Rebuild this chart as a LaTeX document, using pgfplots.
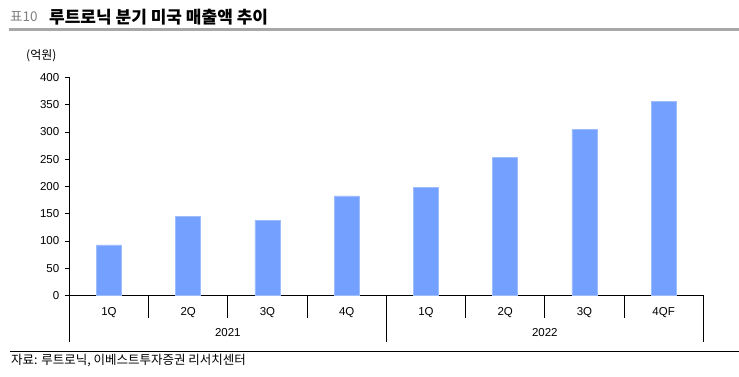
\documentclass[border=0pt]{standalone}
\usepackage{pgfplots}
\pgfplotsset{compat=1.18}
\usepackage{fontspec}
\setmainfont{Liberation Sans}
\newfontfamily\kr{Noto Sans CJK KR}
\definecolor{barblue}{RGB}{116,160,255}
\definecolor{titlegray}{RGB}{168,168,168}
\begin{document}
\begin{tikzpicture}[x=1pt,y=1pt]
\path[use as bounding box,fill=white] (0,0) rectangle (739,377);
% title
\node[anchor=west,inner sep=0,text=gray,font=\kr\fontsize{13.5}{14}\selectfont] at (10,360) {표10};
\node[anchor=west,inner sep=0,font=\kr\bfseries\fontsize{17}{17}\selectfont] at (49,360) {루트로닉 분기 미국 매출액 추이};
\fill[titlegray] (9,345.8) rectangle (739,348.6);
\node[anchor=west,inner sep=0,font=\kr\fontsize{12}{12}\selectfont] at (26,321) {(억원)};
% footer
\draw[line width=1pt] (10,25) -- (739,25);
\node[anchor=west,inner sep=0,font=\kr\fontsize{12.5}{13}\selectfont] at (11,16) {자료: 루트로닉, 이베스트투자증권 리서치센터};
\begin{axis}[
  at={(69.3pt,81.5pt)}, anchor=south west,
  scale only axis, width=634pt, height=218pt,
  xmin=-0.5, xmax=7.5, ymin=0, ymax=400,
  axis x line=bottom, axis y line=left,
  axis line style={-, black, line width=0.9pt},
  ytick={0,50,...,400},
  ytick style={black, line width=0.9pt},
  tick align=outside, major tick length=4.5pt,
  yticklabel style={font=\fontsize{11.5}{12}\selectfont, xshift=-2pt},
  /pgf/number format/assume math mode=true,
  xtick={0,...,7}, xticklabels={1Q,2Q,3Q,4Q,1Q,2Q,3Q,4QF},
  xtick style={draw=none},
  xticklabel style={font=\fontsize{11.5}{12}\selectfont, yshift=-4pt},
  clip=false,
]
\addplot[ybar, bar width=25pt, fill=barblue, draw=barblue!70!white, line width=0.5pt] coordinates {
 (0,93) (1,145) (2,138) (3,183) (4,198) (5,254) (6,305) (7,356)};
\pgfplotsinvokeforeach{0.5,1.5,2.5,4.5,5.5,6.5}{
  \draw[line width=0.9pt] (axis cs:#1,0) -- ++(0pt,-23pt);
}
\pgfplotsinvokeforeach{-0.5,3.5,7.5}{
  \draw[line width=0.9pt] (axis cs:#1,0) -- ++(0pt,-46.5pt);
}
\node[font=\fontsize{11.5}{12}\selectfont] at ([yshift=-37pt]axis cs:1.5,0) {2021};
\node[font=\fontsize{11.5}{12}\selectfont] at ([yshift=-37pt]axis cs:5.5,0) {2022};
\end{axis}
\end{tikzpicture}
\end{document}
